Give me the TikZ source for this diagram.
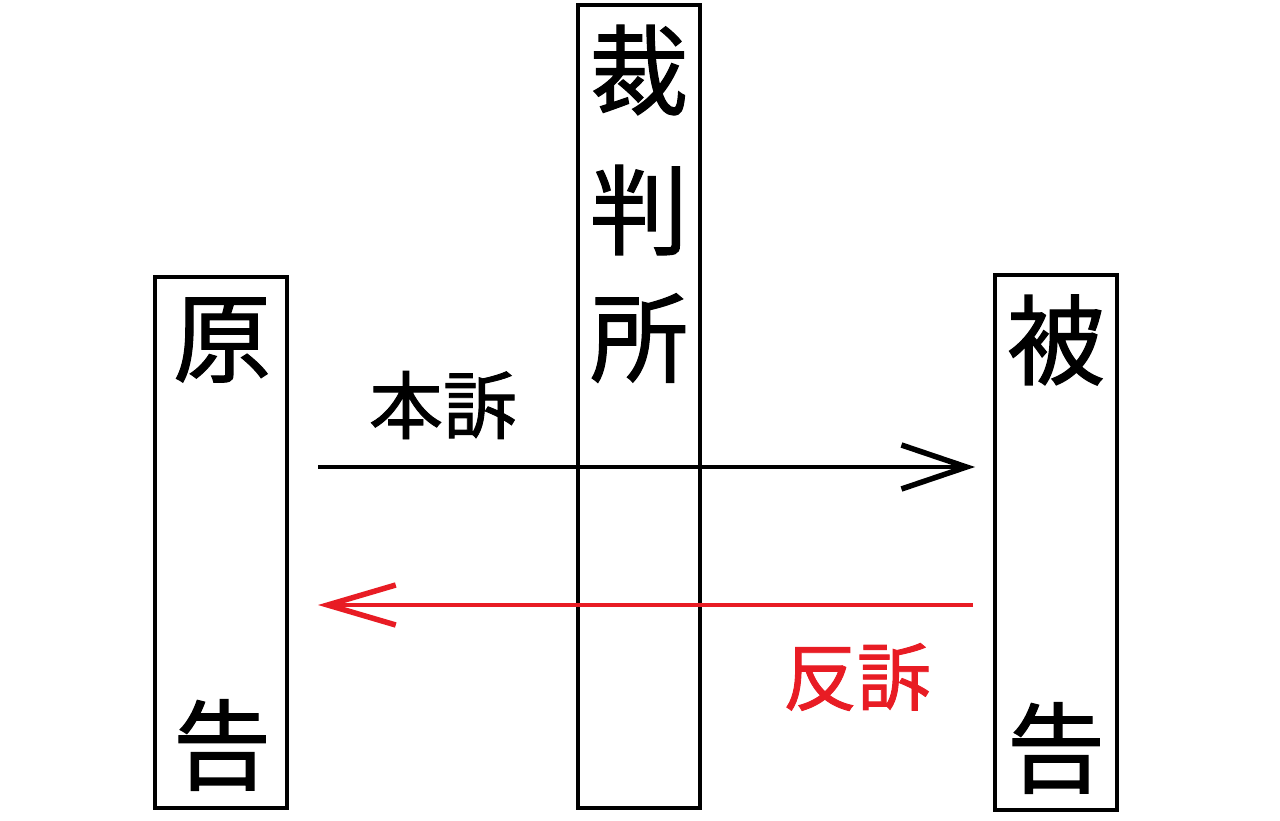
\documentclass[tikz,border=0pt]{standalone}
\usepackage{fontspec}
\newfontfamily\cjk[FakeBold=1.2]{Noto Sans CJK JP}
\usetikzlibrary{arrows.meta}
\definecolor{suitred}{RGB}{232,28,36}

\begin{document}
\begin{tikzpicture}[x=1pt, y=-1pt,
    party/.style={draw, line width=3.5pt, inner sep=0pt},
    bigchar/.style={font=\cjk\fontsize{98pt}{98pt}\selectfont, inner sep=0pt},
    smallchar/.style={font=\cjk\fontsize{74pt}{74pt}\selectfont, inner sep=0pt}]
    \useasboundingbox (0, 0) rectangle (1280, 821);

    % Draw boxes
    \node[party, minimum width=132pt, minimum height=531pt] (plaintiff) at (221, 542.5) {};
    \node[party, minimum width=122pt, minimum height=803pt] (court) at (639, 406.5) {};
    \node[party, minimum width=122pt, minimum height=535pt] (defendant) at (1056, 542.5) {};

    % Draw characters
    \node[bigchar] (p1) at (222, 340) {原};
    \node[bigchar] (p2) at (222, 745) {告};
    \node[bigchar] (c1) at (639, 70) {裁};
    \node[bigchar] (c2) at (639, 210) {判};
    \node[bigchar] (c3) at (639, 338) {所};
    \node[bigchar] (d1) at (1056, 340) {被};
    \node[bigchar] (d2) at (1056, 748) {告};

    % Draw suits
    \coordinate (honA) at (318, 467);
    \coordinate (honB) at (975, 467);
    \coordinate (hanA) at (973, 605);
    \coordinate (hanB) at (318, 605);
    \draw[line width=3.5pt, -{Straight Barb[length=65pt, width=44pt, line width=5.5pt]}] (honA) -- (honB);
    \draw[line width=3.5pt, suitred, -{Straight Barb[length=68pt, width=40pt, line width=5.5pt]}] (hanA) -- (hanB);
    \node[smallchar] (honso) at (443, 405) {本訴};
    \node[smallchar, text=suitred] (hanso) at (857, 677) {反訴};
\end{tikzpicture}
\end{document}
